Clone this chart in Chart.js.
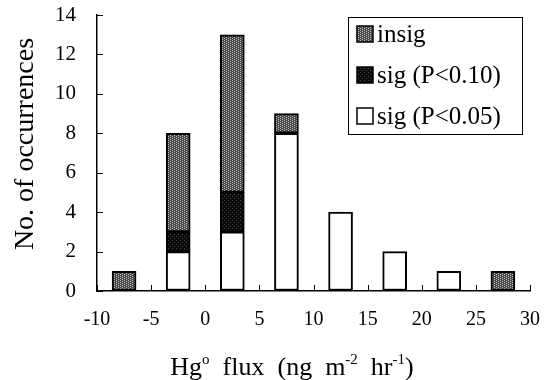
<!DOCTYPE html>
<html>
<head>
<meta charset="utf-8">
<script src="https://cdn.jsdelivr.net/npm/chart.js@4/dist/chart.umd.min.js"></script>
<style>
    html, body { margin: 0; padding: 0; background: #fff; }
    #wrap { width: 551px; height: 380px; }
</style>
</head>
<body>
<div id="wrap"><canvas id="flux-chart" width="551" height="380"></canvas></div>
<script>
    // bin centres of the 5-unit flux classes
    const centers = [-7.5, -2.5, 2.5, 7.5, 12.5, 17.5, 22.5, 27.5];
    const sig05 = [0, 2, 3, 8, 4, 2, 1, 0];
    const sig10 = [0, 1, 2, 0, 0, 0, 0, 0];
    const insig = [1, 5, 8, 1, 0, 0, 0, 1];
    const labels = ["sig (P<0.05)", "sig (P<0.10)", "insig"];
    const xTicks = [-10, -5, 0, 5, 10, 15, 20, 25, 30];
    const yTicks = [0, 2, 4, 6, 8, 10, 12, 14];

    const serif = "'Liberation Serif', 'DejaVu Serif', serif";
    Chart.defaults.font.family = serif;
    Chart.defaults.color = "#000";

    function stipple(bg, dot, spots) {
        const c = document.createElement("canvas");
        c.width = 4; c.height = 4;
        const g = c.getContext("2d");
        g.fillStyle = bg;
        g.fillRect(0, 0, 4, 4);
        g.fillStyle = dot;
        spots.forEach(([x, y]) => g.fillRect(x, y, 1, 1));
        return g.createPattern(c, "repeat");
    }

    const grayFill = stipple("#4a4a4a", "#bdbdbd", [[0, 0], [2, 1], [0, 2], [2, 3]]);
    const darkFill = stipple("#0c0c0c", "#444444", [[0, 0], [2, 2]]);
    const fills = ["#ffffff", darkFill, grayFill];

    const toPoints = arr => arr.map((v, i) => ({ x: centers[i], y: v === 0 ? null : v }));

    const inwardTicks = {
        id: "inwardTicks",
        afterDraw(chart) {
            const { ctx, chartArea: a, scales: { x, y } } = chart;
            ctx.save();
            ctx.strokeStyle = "#000";
            ctx.lineWidth = 1;
            ctx.beginPath();
            xTicks.forEach(v => {
                const px = Math.round(x.getPixelForValue(v)) + 0.5;
                ctx.moveTo(px, a.bottom);
                ctx.lineTo(px, a.bottom - 6);
            });
            yTicks.forEach(v => {
                const py = Math.round(y.getPixelForValue(v)) + 0.5;
                ctx.moveTo(a.left, py);
                ctx.lineTo(a.left + 6, py);
            });
            ctx.stroke();
            ctx.restore();
        }
    };

    const boxLegend = {
        id: "boxLegend",
        afterDraw(chart) {
            const ctx = chart.ctx;
            const left = 348, top = 17, w = 174, h = 117;
            ctx.save();
            ctx.strokeStyle = "#000";
            ctx.lineWidth = 1;
            ctx.strokeRect(left + 0.5, top + 0.5, w, h);
            ctx.font = "25px " + serif;
            ctx.textBaseline = "middle";
            const order = [2, 1, 0];
            order.forEach((di, row) => {
                const cy = top + 17 + row * 41;
                ctx.fillStyle = fills[di];
                ctx.fillRect(357, cy - 8, 16, 16);
                ctx.lineWidth = 1.5;
                ctx.strokeRect(357, cy - 8, 16, 16);
                ctx.fillStyle = "#000";
                ctx.fillText(chart.data.datasets[di].label, 377, cy + 1);
            });
            ctx.restore();
        }
    };

    const axisTitles = {
        id: "axisTitles",
        afterDraw(chart) {
            const ctx = chart.ctx;
            ctx.save();
            ctx.fillStyle = "#000";
            ctx.textBaseline = "alphabetic";
            // y title
            ctx.translate(33, 144);
            ctx.rotate(-Math.PI / 2);
            ctx.textAlign = "center";
            ctx.font = "28px " + serif;
            ctx.fillText("No. of occurrences", 0, 0);
            ctx.restore();

            // x title with superscripts
            ctx.save();
            ctx.fillStyle = "#000";
            const parts = [
                ["Hg", false], ["o", true], ["  flux  (ng  m", false],
                ["-2", true], ["  hr", false], ["-1", true], [")", false]
            ];
            const big = "26px " + serif, small = "15px " + serif;
            let total = 0;
            parts.forEach(([t, sup]) => {
                ctx.font = sup ? small : big;
                total += ctx.measureText(t).width;
            });
            let x = 292 - total / 2;
            const base = 375;
            parts.forEach(([t, sup]) => {
                ctx.font = sup ? small : big;
                ctx.fillText(t, x, sup ? base - 11 : base);
                x += ctx.measureText(t).width;
            });
            ctx.restore();
        }
    };

    new Chart(document.getElementById("flux-chart"), {
        type: "bar",
        data: {
            datasets: [sig05, sig10, insig].map((arr, i) => ({
                label: labels[i],
                data: toPoints(arr),
                backgroundColor: fills[i],
                borderColor: "#000",
                borderWidth: 2,
                borderSkipped: false,
                barThickness: 24
            }))
        },
        options: {
            responsive: false,
            animation: false,
            layout: { padding: { top: 0, right: 0, left: 0, bottom: 0 } },
            scales: {
                x: {
                    type: "linear",
                    offset: false,
                    stacked: true,
                    min: -10,
                    max: 30,
                    afterFit: s => { s.height = 89; s.paddingLeft = 0; s.paddingRight = 21; },
                    afterBuildTicks: s => { s.ticks = xTicks.map(v => ({ value: v })); },
                    grid: { drawOnChartArea: false, drawTicks: false },
                    border: { color: "#000", width: 1.5 },
                    ticks: { padding: 17, font: { size: 20 }, color: "#000" }
                },
                y: {
                    stacked: true,
                    min: 0,
                    max: 14,
                    afterFit: s => { s.width = 97; s.paddingTop = 15; s.paddingBottom = 0; },
                    afterBuildTicks: s => { s.ticks = yTicks.map(v => ({ value: v })); },
                    grid: { drawOnChartArea: false, drawTicks: false },
                    border: { color: "#000", width: 1.5 },
                    ticks: { padding: 21, font: { size: 21 }, color: "#000" }
                }
            },
            plugins: {
                legend: { display: false },
                tooltip: { enabled: false }
            }
        },
        plugins: [inwardTicks, boxLegend, axisTitles]
    });
</script>
</body>
</html>
